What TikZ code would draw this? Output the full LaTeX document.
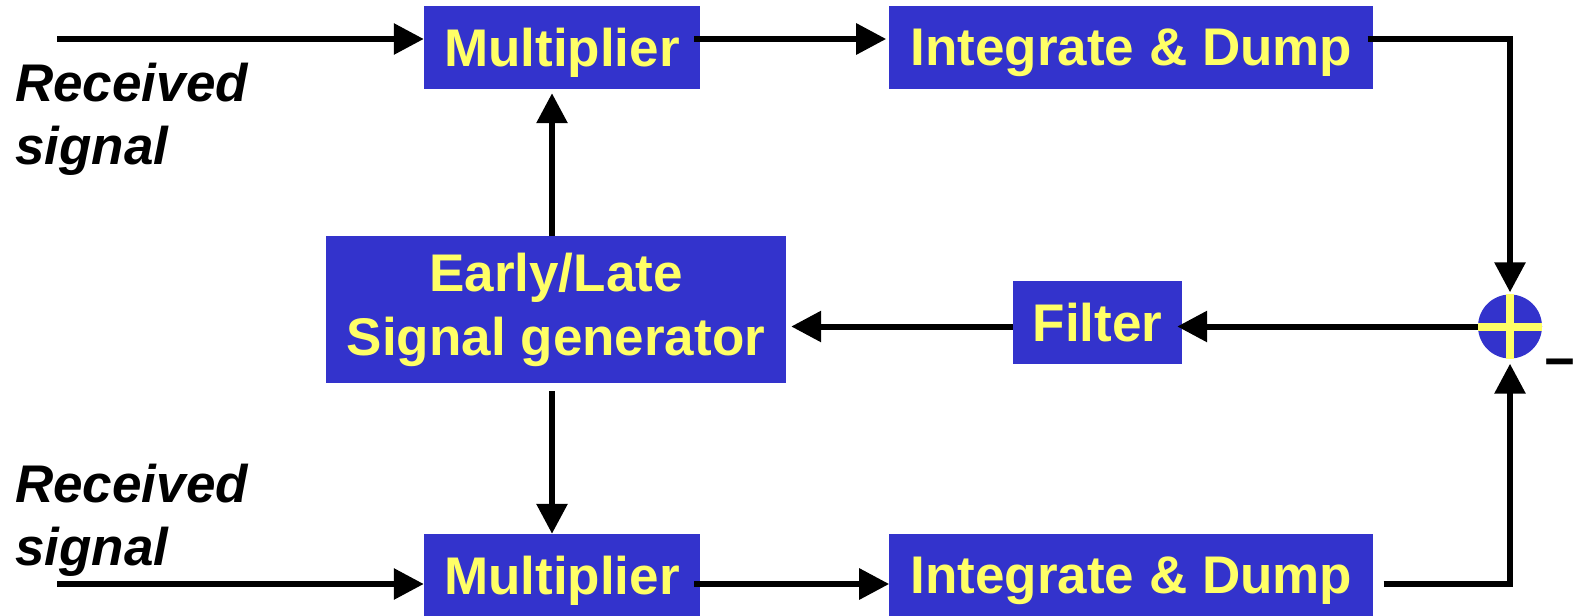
\documentclass[tikz,border=0pt]{standalone}
\usepackage{fontspec}
\setmainfont{Liberation Sans}
\usetikzlibrary{arrows.meta,positioning}
\definecolor{boxblue}{HTML}{3333CC}
\definecolor{boxyellow}{HTML}{FFFF66}

\begin{document}
\begin{tikzpicture}[x=1pt,y=1pt,  %one pt for each pixel of the slide
		block/.style={fill=boxblue,text=boxyellow,font=\fontsize{53}{64}\selectfont\bfseries,inner sep=0pt,align=center},
		oneline/.style={block,text depth=0pt},
		junction/.style={circle,fill=boxblue,inner sep=0pt,minimum size=64pt},
		inputtext/.style={font=\fontsize{53}{63}\selectfont\bfseries\itshape,inner sep=0pt,align=left,anchor=north west},
		flow/.style={line width=6pt,-{Triangle[length=30pt,width=30pt]}},
		bar/.style={draw=boxyellow,line width=8pt}]

	\useasboundingbox (0,0) rectangle (1575,-616);

	\node[oneline,minimum width=276pt,minimum height=83pt] (mul1) at (562,-47.5) {Multiplier};
	\node[oneline,minimum width=484pt,minimum height=83pt] (int1) [right=189pt of mul1] {Integrate \& Dump};
	\node[block,minimum width=460pt,minimum height=147pt] (elg) at (556,-309.5) {Early/Late\\Signal generator};
	\node[oneline,minimum width=169pt,minimum height=83pt] (filter) at (1097.5,-322.5) {Filter};
	\node[junction] (sum) at (1510,-326.5) {};
	\node[oneline,minimum width=276pt,minimum height=82pt] (mul2) at (562,-575) {Multiplier};
	\node[oneline,minimum width=484pt,minimum height=82pt] (int2) [right=189pt of mul2] {Integrate \& Dump};

	\draw[bar] (sum.north) -- (sum.south) (sum.west) -- (sum.east);
	\node[inner sep=0pt,font=\fontsize{53}{63}\selectfont\bfseries] (minus) [right=0pt of sum,xshift=2pt,yshift=-43pt] {−};

	\coordinate (in1) at (57,-39);
	\coordinate (in2) at (57,-584);
	\node[inputtext] (rec1) at (15,-63) {Received\\signal};
	\node[inputtext] (rec2) at (15,-464) {Received\\signal};

	\draw[flow] (in1) -- (in1 -| mul1.west);
	\draw[flow,shorten >=3pt] ([xshift=-6pt]mul1.east |- in1) -- (int1.west |- in1);
	\draw[flow,shorten >=2pt] ([xshift=-6pt]int1.east |- in1) -| (sum.north);
	\draw[flow] (in2) -- (in2 -| mul2.west);
	\draw[flow] ([xshift=-6pt]mul2.east |- in2) -- (int2.west |- in2);
	\draw[flow,shorten >=5pt] ([xshift=10pt]int2.east |- in2) -| (sum.south);
	\draw[flow,shorten >=4pt] ([xshift=-4pt]elg.north) -- ([xshift=-4pt]elg.north |- mul1.south);
	\draw[flow,shorten <=8pt] ([xshift=-4pt]elg.south) -- ([xshift=-4pt]elg.south |- mul2.north);
	\draw[flow,shorten >=-5pt] (sum.west) -- (sum.west -| filter.east);
	\draw[flow,shorten >=5pt] (filter.west |- sum.west) -- (elg.east |- sum.west);
\end{tikzpicture}
\end{document}
